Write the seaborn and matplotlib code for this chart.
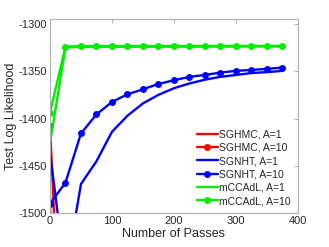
import numpy as np
import pandas as pd
import matplotlib
matplotlib.use('Agg')
import matplotlib.pyplot as plt
import seaborn as sns

passes = [0, 25, 50, 75, 100, 125, 150, 175, 200, 225, 250, 275, 300, 325, 350, 375]

sghmc_a1 = [-1476, -3000, -3200, -3300, -3350, -3380, -3400, -3410, -3420, -3430, -3435, -3440, -3445, -3450, -3452, -3455]
sghmc_a10 = [-1408, -1760, -1900, -1950, -1980, -2000, -2010, -2020, -2030, -2035, -2040, -2045, -2050, -2052, -2055, -2057]
sgnht_a1 = [-1436, -1565, -1469, -1445, -1414, -1397, -1384, -1375, -1368, -1363, -1359, -1356, -1354, -1352, -1351, -1349.7]
sgnht_a10 = [-1489.7, -1467.5, -1415.7, -1395.6, -1382.5, -1374.4, -1369.1, -1363.5, -1359.6, -1356, -1354, -1351.5, -1349.7, -1348.7, -1347.6, -1346.2]
mccadl_a1 = [-1426, -1325, -1324.5, -1324.5, -1324.3, -1324.3, -1324.2, -1324.2, -1324.2, -1324.1, -1324.1, -1324.1, -1324, -1324, -1324, -1324]
mccadl_a10 = [-1393.8, -1324, -1323.6, -1323.5, -1323.5, -1323.6, -1323.4, -1323.5, -1323.4, -1323.5, -1323.4, -1323.4, -1323.4, -1323.3, -1323.4, -1323.3]

series = [
    ('SGHMC, A=1', sghmc_a1, '#ff0000', None),
    ('SGHMC, A=10', sghmc_a10, '#ff0000', 'o'),
    ('SGNHT, A=1', sgnht_a1, '#0000ff', None),
    ('SGNHT, A=10', sgnht_a10, '#0000ff', 'o'),
    ('mCCAdL, A=1', mccadl_a1, '#00ee00', None),
    ('mCCAdL, A=10', mccadl_a10, '#00ee00', 'o'),
]

sns.set_style('white')
plt.rcParams['font.family'] = ['Liberation Sans', 'DejaVu Sans']
plt.rcParams['axes.unicode_minus'] = False

fig = plt.figure(figsize=(3.29, 2.47), dpi=100)
ax = fig.add_axes([0.152, 0.136, 0.753, 0.787])

for name, vals, col, mk in series:
    sns.lineplot(x=passes, y=vals, ax=ax, color=col, linewidth=1.7, label=name,
                 marker=mk, markersize=5, markeredgewidth=0)

ax.set_xlim(0, 400)
ax.set_ylim(-1500, -1295)
ax.set_xticks([0, 100, 200, 300, 400])
ax.set_yticks([-1500, -1450, -1400, -1350, -1300])
ax.tick_params(direction='in', length=3, width=0.6, color='#a0a0a0', labelsize=8,
               labelcolor='#262626', top=True, right=True, pad=2)
for s in ax.spines.values():
    s.set_color('#b0b0b0')
    s.set_linewidth(0.8)
ax.set_xlabel('Number of Passes', fontsize=9, color='#262626', labelpad=1)
ax.set_ylabel('Test Log Likelihood', fontsize=9, color='#262626', labelpad=1)

ax.legend(loc='lower right', frameon=False, fontsize=7.5, handlelength=2.0,
          handletextpad=0.1, labelspacing=0.32, borderaxespad=0.3)

fig.savefig('out.png', dpi=100)
